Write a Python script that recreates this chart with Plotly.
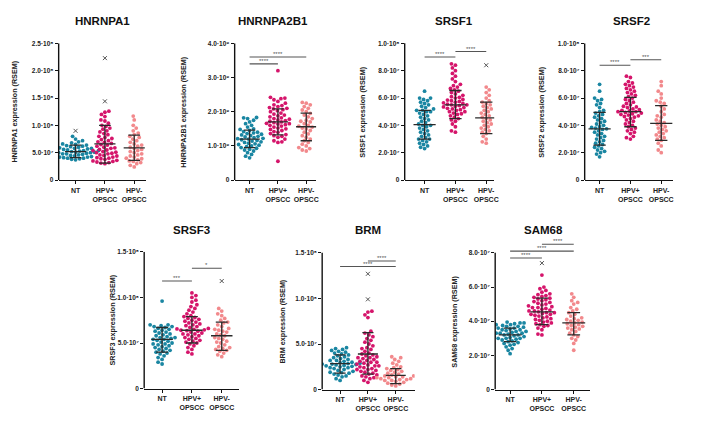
import plotly.graph_objects as go
import numpy as np

W, H = 708, 427

categories = ["NT", "HPV+<br>OPSCC", "HPV-<br>OPSCC"]
group_colors = ["#1A86A2", "#D5156B", "#F2898C"]
genes = ["HNRNPA1", "HNRNPA2B1", "SRSF1", "SRSF2", "SRSF3", "BRM", "SAM68"]

# ---------------- data (values in units of each panel's 'unit') ----------------
# HNRNPA1 (x1e7)
hnrnpa1_nt = [3.7,3.8,3.9,4.0,4.0,4.1,4.2,4.2,4.3,4.4,4.5,4.5,4.6,4.7,4.8,4.8,4.9,5.0,5.0,5.1,5.1,5.2,5.2,5.3,5.4,5.4,5.5,5.6,5.7,5.8,5.8,5.9,6.0,6.1,6.2,6.3,6.4,6.5,6.6,6.8,7.0,7.2,7.5,8.0]
hnrnpa1_pos = [3.0,3.1,3.2,3.3,3.4,3.5,3.6,3.8,3.9,4.0,4.1,4.2,4.4,4.5,4.6,4.8,4.9,5.0,5.1,5.2,5.4,5.5,5.6,5.8,5.9,6.0,6.2,6.4,6.5,6.7,6.9,7.0,7.2,7.4,7.6,7.8,8.0,8.3,8.5,8.8,9.0,9.3,9.5,9.8,10.0,10.4,10.8,11.0,11.6,12.0,12.4,12.6]
hnrnpa1_neg = [2.4,2.7,3.0,3.2,3.4,3.5,3.7,3.9,4.0,4.2,4.4,4.6,4.8,5.0,5.2,5.4,5.6,5.8,6.0,6.2,6.4,6.6,6.9,7.2,7.5,7.8,8.0,8.3,8.6,9.0,9.5,10.0,11.0,11.7]
hnrnpa1_outliers = [[9.0], [14.4, 22.3], []]
hnrnpa1_center = [5.2, 6.6, 5.9]
hnrnpa1_low = [4.1, 3.1, 3.6]
hnrnpa1_high = [6.4, 10.0, 8.2]
hnrnpa1_brackets = []

# HNRNPA2B1 (x1e9)
hnrnpa2b1_nt = [0.65,0.7,0.75,0.8,0.85,0.88,0.9,0.93,0.95,0.98,1.0,1.02,1.04,1.06,1.08,1.1,1.12,1.14,1.16,1.18,1.2,1.21,1.22,1.24,1.26,1.28,1.3,1.32,1.34,1.36,1.38,1.4,1.42,1.45,1.48,1.5,1.55,1.6,1.65,1.7,1.75,1.8,1.82,1.83]
hnrnpa2b1_pos = [0.55,1.1,1.12,1.15,1.2,1.25,1.28,1.3,1.33,1.36,1.4,1.42,1.45,1.48,1.5,1.52,1.55,1.58,1.6,1.62,1.64,1.65,1.66,1.68,1.7,1.72,1.74,1.76,1.78,1.8,1.82,1.85,1.88,1.9,1.93,1.96,2.0,2.03,2.06,2.08,2.1,2.12,2.15,2.18,2.2,2.25,2.3,2.35,2.38,2.4,2.42,3.2]
hnrnpa2b1_neg = [0.85,0.88,0.92,0.95,1.0,1.05,1.1,1.15,1.2,1.25,1.3,1.35,1.4,1.45,1.5,1.52,1.55,1.58,1.6,1.65,1.7,1.72,1.75,1.8,1.85,1.9,1.95,2.0,2.05,2.1,2.15,2.2,2.25,2.27]
hnrnpa2b1_outliers = [[], [], []]
hnrnpa2b1_center = [1.2, 1.7, 1.56]
hnrnpa2b1_low = [0.95, 1.32, 1.15]
hnrnpa2b1_high = [1.46, 2.08, 1.96]
hnrnpa2b1_brackets = [(0, 1, 3.4, "****"), (0, 2, 3.6, "****")]

# SRSF1 (x1e7)
srsf1_nt = [2.3,2.4,2.5,2.6,2.7,2.8,2.9,3.0,3.0,3.1,3.2,3.3,3.4,3.5,3.6,3.7,3.8,3.9,4.0,4.0,4.1,4.2,4.3,4.4,4.5,4.6,4.7,4.8,4.9,5.0,5.0,5.1,5.1,5.2,5.3,5.4,5.5,5.6,5.7,5.8,5.9,6.0,6.0,6.5]
srsf1_pos = [3.5,3.6,3.9,4.1,4.3,4.4,4.5,4.6,4.7,4.8,4.85,4.9,5.0,5.0,5.1,5.15,5.2,5.25,5.3,5.35,5.4,5.45,5.5,5.5,5.55,5.6,5.65,5.7,5.75,5.8,5.85,5.9,6.0,6.05,6.1,6.2,6.3,6.4,6.5,6.6,6.7,6.8,6.9,7.0,7.2,7.4,7.6,7.8,8.0,8.2,8.4,8.5]
srsf1_neg = [2.7,2.8,3.0,3.2,3.4,3.5,3.6,3.7,3.8,3.9,4.0,4.1,4.2,4.3,4.4,4.5,4.6,4.7,4.8,4.9,5.0,5.1,5.2,5.3,5.4,5.5,5.6,5.7,5.8,6.0,6.2,6.4,6.6,6.8]
srsf1_outliers = [[], [], [8.4]]
srsf1_center = [4.05, 5.5, 4.55]
srsf1_low = [3.0, 4.5, 3.4]
srsf1_high = [5.1, 6.55, 5.7]
srsf1_brackets = [(0, 1, 9.0, "****"), (1, 2, 9.4, "****")]

# SRSF2 (x1e7)
srsf2_nt = [1.7,1.9,2.0,2.1,2.2,2.3,2.4,2.5,2.6,2.7,2.8,2.9,3.0,3.1,3.2,3.3,3.4,3.5,3.6,3.7,3.75,3.8,3.85,3.9,4.0,4.1,4.2,4.3,4.4,4.5,4.6,4.7,4.8,4.9,5.0,5.1,5.3,5.5,5.6,5.8,5.9,6.0,6.5,7.0]
srsf2_pos = [3.0,3.1,3.2,3.4,3.5,3.6,3.7,3.8,3.9,4.0,4.1,4.2,4.3,4.4,4.5,4.6,4.65,4.7,4.75,4.8,4.85,4.9,4.95,5.0,5.0,5.05,5.1,5.15,5.2,5.3,5.35,5.4,5.5,5.6,5.7,5.8,5.9,6.0,6.1,6.2,6.3,6.4,6.5,6.6,6.7,6.8,6.9,7.0,7.1,7.2,7.5,7.6]
srsf2_neg = [2.0,2.2,2.5,2.7,2.9,3.0,3.1,3.2,3.3,3.4,3.5,3.6,3.7,3.8,3.9,4.0,4.1,4.2,4.3,4.4,4.6,4.7,4.8,5.0,5.2,5.4,5.6,5.7,5.8,6.0,6.3,6.5,6.9,7.2]
srsf2_outliers = [[], [], []]
srsf2_center = [3.75, 5.0, 4.15]
srsf2_low = [2.55, 3.9, 2.9]
srsf2_high = [4.95, 6.05, 5.45]
srsf2_brackets = [(0, 1, 8.4, "****"), (1, 2, 8.8, "***")]

# SRSF3 (x1e7)
srsf3_nt = [2.7,2.9,3.2,3.4,3.6,3.8,3.9,4.0,4.1,4.2,4.3,4.4,4.5,4.6,4.7,4.8,4.9,4.9,5.0,5.1,5.2,5.3,5.4,5.4,5.5,5.6,5.6,5.7,5.8,5.9,6.0,6.1,6.2,6.3,6.4,6.5,6.6,6.7,6.8,6.8,6.9,7.0,7.0,9.6]
srsf3_pos = [3.8,4.0,4.3,4.5,4.7,4.9,5.0,5.1,5.2,5.3,5.4,5.5,5.6,5.7,5.8,5.9,6.0,6.0,6.1,6.2,6.3,6.35,6.4,6.45,6.5,6.55,6.6,6.7,6.8,6.9,7.0,7.1,7.2,7.3,7.4,7.5,7.6,7.7,7.8,7.9,8.0,8.2,8.4,8.6,8.8,9.0,9.2,9.5,9.7,10.0,10.2,10.5]
srsf3_neg = [3.5,3.7,3.9,4.1,4.2,4.3,4.4,4.5,4.6,4.8,5.0,5.1,5.2,5.4,5.5,5.6,5.8,5.9,6.0,6.2,6.3,6.4,6.5,6.6,6.8,7.0,7.2,7.3,7.5,7.7,8.0,8.2,8.5,8.8]
srsf3_outliers = [[], [], [11.8]]
srsf3_center = [5.4, 6.4, 5.8]
srsf3_low = [4.0, 5.0, 4.2]
srsf3_high = [6.7, 7.9, 7.3]
srsf3_brackets = [(0, 1, 11.8, "***"), (1, 2, 13.2, "*")]

# BRM (x1e7)
brm_nt = [1.0,1.2,1.4,1.5,1.6,1.7,1.8,1.85,1.9,2.0,2.1,2.2,2.3,2.4,2.4,2.5,2.55,2.6,2.65,2.7,2.75,2.8,2.8,2.85,2.9,2.95,3.0,3.1,3.2,3.2,3.3,3.4,3.5,3.6,3.7,3.8,3.9,4.0,4.1,4.2,4.3,4.4,4.5,4.6]
brm_pos = [0.8,1.0,1.2,1.3,1.4,1.5,1.6,1.7,1.8,1.9,2.0,2.1,2.2,2.2,2.3,2.4,2.5,2.6,2.6,2.7,2.8,2.9,3.0,3.0,3.1,3.2,3.3,3.4,3.5,3.5,3.6,3.7,3.8,3.9,4.0,4.2,4.4,4.5,4.6,4.8,5.0,5.2,5.4,5.6,5.8,6.0,6.2,6.4,7.9,8.2,8.5,8.6]
brm_neg = [0.4,0.5,0.6,0.7,0.8,0.9,1.0,1.0,1.1,1.1,1.2,1.2,1.3,1.3,1.4,1.4,1.5,1.5,1.6,1.7,1.8,1.9,2.0,2.1,2.2,2.3,2.4,2.5,2.7,2.9,3.1,3.3,3.5,3.6]
brm_outliers = [[], [9.9, 12.7], []]
brm_center = [2.84, 3.9, 1.55]
brm_low = [1.8, 1.7, 0.65]
brm_high = [3.8, 6.25, 2.3]
brm_brackets = [(0, 2, 13.5, "****"), (1, 2, 14.1, "****")]

# SAM68 (x1e7)
sam68_nt = [2.1,2.3,2.4,2.5,2.6,2.65,2.7,2.75,2.8,2.85,2.9,2.95,3.0,3.0,3.05,3.1,3.1,3.15,3.2,3.2,3.25,3.3,3.3,3.35,3.4,3.4,3.45,3.5,3.5,3.55,3.6,3.6,3.65,3.7,3.7,3.75,3.8,3.8,3.85,3.9,3.9,3.95,3.0,3.3]
sam68_pos = [3.2,3.25,3.5,3.6,3.7,3.75,3.8,3.85,3.9,3.95,4.0,4.05,4.1,4.15,4.2,4.25,4.3,4.35,4.4,4.45,4.5,4.5,4.55,4.6,4.6,4.65,4.7,4.75,4.8,4.85,4.9,4.95,5.0,5.05,5.1,5.15,5.2,5.25,5.3,5.35,5.4,5.45,5.5,5.55,5.6,5.7,5.8,5.9,6.0,6.7,4.4,4.8]
sam68_neg = [2.3,2.7,2.9,3.0,3.1,3.2,3.3,3.4,3.5,3.55,3.6,3.65,3.7,3.75,3.8,3.85,3.9,3.95,4.0,4.05,4.1,4.15,4.2,4.3,4.4,4.5,4.6,4.7,4.8,5.0,5.1,5.2,5.4,5.6]
sam68_outliers = [[], [7.4], []]
sam68_center = [3.2, 4.55, 3.9]
sam68_low = [2.8, 3.8, 3.2]
sam68_high = [3.6, 5.35, 4.5]
sam68_brackets = [(0, 1, 7.7, "****"), (0, 2, 8.1, "****"), (1, 2, 8.5, "****")]

# tick labels
ticks_a1 = [0, 5, 10, 15, 20, 25]
ticklabels_a1 = ["0", "5.0·10⁷", "1.0·10⁸", "1.5·10⁸", "2.0·10⁸", "2.5·10⁸"]
ticks_a2 = [0, 1, 2, 3, 4]
ticklabels_a2 = ["0", "1.0·10⁹", "2.0·10⁹", "3.0·10⁹", "4.0·10⁹"]
ticks_10 = [0, 2, 4, 6, 8, 10]
ticklabels_10 = ["0", "2.0·10⁷", "4.0·10⁷", "6.0·10⁷", "8.0·10⁷", "1.0·10⁸"]
ticks_15 = [0, 5, 10, 15]
ticklabels_15 = ["0", "5.0·10⁷", "1.0·10⁸", "1.5·10⁸"]
ticks_8 = [0, 2, 4, 6, 8]
ticklabels_8 = ["0", "2.0·10⁷", "4.0·10⁷", "6.0·10⁷", "8.0·10⁷"]

# ---------------- layout geometry (pixels) ----------------
# axis_x, x_end, cat0_x, cat2_x, y_zero, y_top, title_x, title_y, ylabel_x
geom = [
    (59, 147, 76, 135, 179, 40, 103, 17, 15),
    (236, 318, 251, 308, 179, 40, 275, 17, 185),
    (407, 497, 427, 489, 179, 40, 457, 17, 365),
    (588, 677, 603, 665, 179, 40, 635, 17, 545),
    (145, 240, 163, 223, 391, 252, 193, 230, 113),
    (324, 417, 342, 398, 392, 253, 370, 230, 284),
    (498, 593, 513, 577, 392, 253, 547, 230, 457),
]

panels = [
    (hnrnpa1_nt, hnrnpa1_pos, hnrnpa1_neg, hnrnpa1_outliers, hnrnpa1_center, hnrnpa1_low, hnrnpa1_high, hnrnpa1_brackets, ticks_a1, ticklabels_a1),
    (hnrnpa2b1_nt, hnrnpa2b1_pos, hnrnpa2b1_neg, hnrnpa2b1_outliers, hnrnpa2b1_center, hnrnpa2b1_low, hnrnpa2b1_high, hnrnpa2b1_brackets, ticks_a2, ticklabels_a2),
    (srsf1_nt, srsf1_pos, srsf1_neg, srsf1_outliers, srsf1_center, srsf1_low, srsf1_high, srsf1_brackets, ticks_10, ticklabels_10),
    (srsf2_nt, srsf2_pos, srsf2_neg, srsf2_outliers, srsf2_center, srsf2_low, srsf2_high, srsf2_brackets, ticks_10, ticklabels_10),
    (srsf3_nt, srsf3_pos, srsf3_neg, srsf3_outliers, srsf3_center, srsf3_low, srsf3_high, srsf3_brackets, ticks_15, ticklabels_15),
    (brm_nt, brm_pos, brm_neg, brm_outliers, brm_center, brm_low, brm_high, brm_brackets, ticks_15, ticklabels_15),
    (sam68_nt, sam68_pos, sam68_neg, sam68_outliers, sam68_center, sam68_low, sam68_high, sam68_brackets, ticks_8, ticklabels_8),
]

FONT = "Liberation Sans, Arial, sans-serif"
DOT = 3.8
DIST = 4.0


def swarm(vals, ppu, d):
    vals = np.asarray(vals, dtype=float)
    order = np.argsort(vals)
    placed = []
    xs = np.zeros(len(vals))
    for n, i in enumerate(order):
        y = vals[i] * ppu
        found = None
        k = 0
        while found is None:
            signs = [1] if k == 0 else ([1, -1] if n % 2 == 0 else [-1, 1])
            for sg in signs:
                x = sg * k * 0.5
                if all((x - px) ** 2 + (y - py) ** 2 >= d * d for px, py in placed):
                    found = x
                    break
            k += 1
        placed.append((found, y))
        xs[i] = found
    return xs


fig = go.Figure()
layout = dict(
    width=W, height=H, margin=dict(l=0, r=0, t=0, b=0),
    paper_bgcolor="white", plot_bgcolor="white", showlegend=False,
    font=dict(family=FONT, color="#222"),
)
annotations = []
shapes = []

for p, (g, pan) in enumerate(zip(geom, panels)):
    ax_x, x_end, c0, c2, y0, yt, tx, ty, ylx = g
    nt, pos, neg, outl, cen, lo, hi, brk, tv, tt = pan
    n = p + 1
    xa = "x" if n == 1 else f"x{n}"
    ya = "y" if n == 1 else f"y{n}"
    T = tv[-1]
    ppu = (y0 - yt) / T
    bmax = max([b[2] for b in brk], default=0)
    R = max(T, bmax + 0.4 * (T / 10) + 4 / ppu)
    s = (c2 - c0) / 2
    xr = [(ax_x - c0) / s, (x_end - c0) / s]
    dom_x = [ax_x / W, x_end / W]
    dom_y = [1 - y0 / H, 1 - (y0 - R * ppu) / H]

    layout["xaxis" if n == 1 else f"xaxis{n}"] = dict(
        domain=dom_x, range=xr, anchor=ya, tickvals=[0, 1, 2], ticktext=categories,
        showline=True, linecolor="#111", linewidth=1.4, ticks="outside", ticklen=3,
        tickwidth=1.2, tickcolor="#111", showgrid=False, zeroline=False,
        tickfont=dict(size=7, family=FONT, weight="bold", color="#222"),
        fixedrange=True,
    )
    layout["yaxis" if n == 1 else f"yaxis{n}"] = dict(
        domain=dom_y, range=[0, R], anchor=xa, tickvals=tv, ticktext=tt,
        showline=False, ticks="outside", ticklen=3, tickwidth=1.2, tickcolor="#111",
        showgrid=False, zeroline=False,
        tickfont=dict(size=6.5, family=FONT, weight="bold", color="#222"),
        fixedrange=True,
    )
    shapes.append(dict(type="line", xref=f"{xa} domain", yref=ya, x0=0, x1=0, y0=0, y1=T,
                       line=dict(color="#111", width=1.4)))

    for gi, vals in enumerate([nt, pos, neg]):
        offs = swarm(vals, ppu, DIST)
        fig.add_trace(go.Scatter(
            x=gi + offs / s, y=vals, mode="markers", xaxis=xa, yaxis=ya,
            marker=dict(size=DOT, color=group_colors[gi], line=dict(width=0)),
            hoverinfo="skip"))
        if outl[gi]:
            fig.add_trace(go.Scatter(
                x=[gi] * len(outl[gi]), y=outl[gi], mode="markers", xaxis=xa, yaxis=ya,
                marker=dict(symbol="x-thin", size=4, line=dict(width=1, color="#555")),
                hoverinfo="skip"))
    # mean / SD bars
    ex, ey = [], []
    for gi in range(3):
        ex += [gi - 0.36, gi + 0.36, None, gi, gi, None, gi - 0.2, gi + 0.2, None, gi - 0.2, gi + 0.2, None]
        ey += [cen[gi], cen[gi], None, lo[gi], hi[gi], None, lo[gi], lo[gi], None, hi[gi], hi[gi], None]
    fig.add_trace(go.Scatter(x=ex, y=ey, mode="lines", xaxis=xa, yaxis=ya,
                             line=dict(color="#2a2a2a", width=1.3), hoverinfo="skip"))
    # significance brackets
    for (i, j, yb, lab) in brk:
        fig.add_trace(go.Scatter(x=[i, j], y=[yb, yb], mode="lines", xaxis=xa, yaxis=ya,
                                 line=dict(color="#555", width=1.1), hoverinfo="skip"))
        annotations.append(dict(x=(i + j) / 2, y=yb, xref=xa, yref=ya, text=lab,
                                showarrow=False, yanchor="bottom", yshift=-2,
                                font=dict(size=6, color="#555", family=FONT)))
    # title
    annotations.append(dict(x=tx / W, y=1 - ty / H, xref="paper", yref="paper",
                            text=genes[p], showarrow=False, xanchor="center", yanchor="middle",
                            font=dict(size=11.5, family=FONT, weight="bold", color="#111")))
    # y label
    annotations.append(dict(x=ylx / W, y=1 - ((y0 + yt) / 2) / H, xref="paper", yref="paper",
                            text=f"{genes[p]} expression (RSEM)", showarrow=False, textangle=-90,
                            xanchor="center", yanchor="middle",
                            font=dict(size=7.2, family=FONT, weight="bold", color="#222")))

layout["annotations"] = annotations
layout["shapes"] = shapes
fig.update_layout(**layout)
fig.write_html("out.html")
